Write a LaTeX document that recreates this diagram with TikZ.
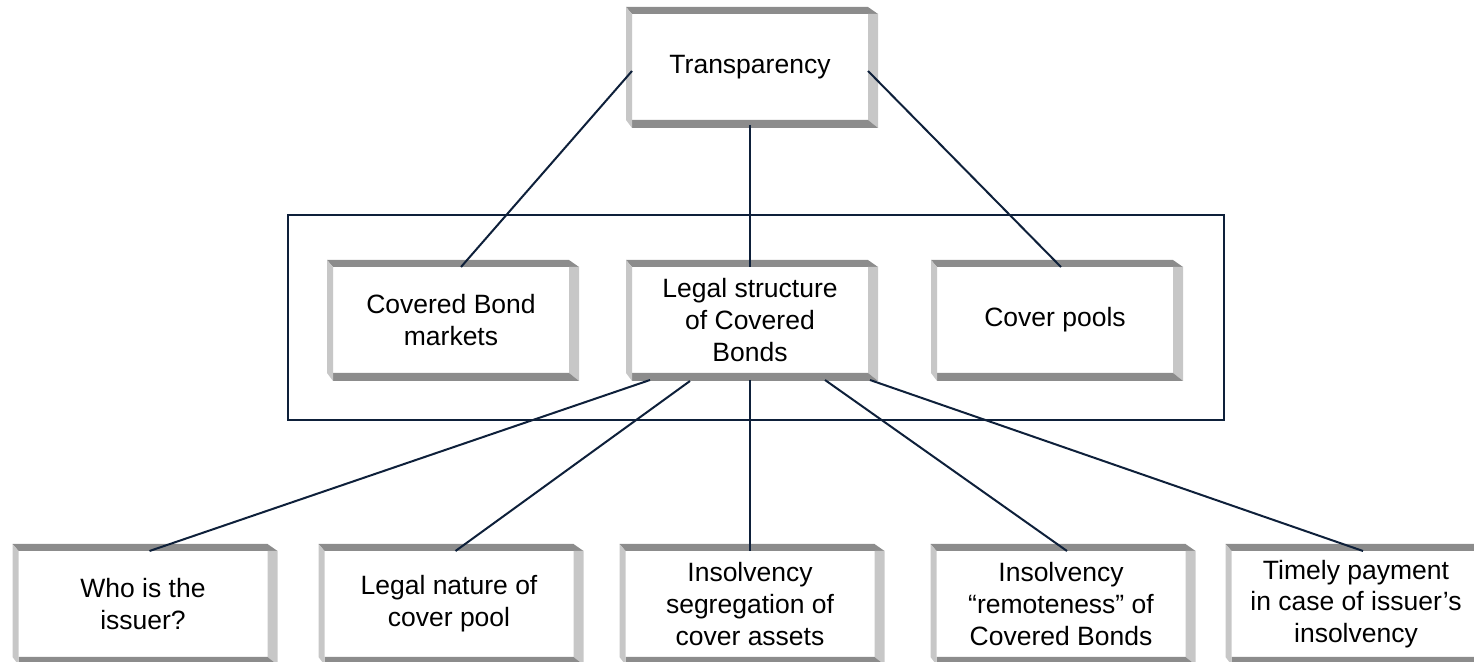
\documentclass[tikz,border=0pt]{standalone}
\usepackage{fontspec}
\setmainfont{Liberation Sans}
\usetikzlibrary{positioning}
\definecolor{linknavy}{RGB}{14,32,58}
\newcommand{\bevellightcolor}[0]{black!22}
\newcommand{\beveldarkcolor}[0]{black!45}

\tikzset{
    topic/.style={rectangle, fill=white, outer sep=0pt, inner sep=2pt, align=center,
        minimum width=118pt, minimum height=53pt, font=\fontsize{13.25}{15.9}\selectfont},
    subtopic/.style={topic, minimum width=124.5pt},
    link/.style={draw=linknavy, line width=1pt},
}

\begin{document}
\begin{tikzpicture}[x=0.5pt, y=-0.5pt]
    \useasboundingbox (0,0) rectangle (1474,662);
    \clip (0,0) rectangle (1474,662);
    \node[rectangle, draw=linknavy, line width=1pt, minimum width=468pt, minimum height=102.5pt]
        (group) at (756,317.5) {};
    \node[topic] (legal) at (750,320) {Legal structure\\of Covered\\Bonds};
    \node[topic, above=73.5pt of legal]
        (transparency) {Transparency};
    \node[topic, left=31.5pt of legal]
        (markets) {Covered Bond\\markets};
    \node[topic, right=34.5pt of legal]
        (pools) {Cover pools};
    \node[subtopic, below=89pt of legal]
        (segregation) {Insolvency\\segregation of\\cover assets};
    \node[subtopic, left=26pt of segregation]
        (nature) {Legal nature of\\cover pool};
    \node[subtopic, left=28.5pt of nature]
        (issuer) {Who is the\\issuer?};
    \node[subtopic, right=31pt of segregation]
        (remoteness) {Insolvency\\``remoteness'' of\\Covered Bonds};
    \node[subtopic, right=23pt of remoteness]
        (payment) {Timely payment\\in case of issuer's\\insolvency};
    % bevelled frames
    \foreach \n in {transparency, markets, legal, pools, issuer, nature, segregation, remoteness, payment} {
        \fill[\beveldarkcolor] ([shift={(-6,-7)}]\n.north west) -- ([shift={(0,-7)}]\n.north east)
            -- ([shift={(10,0)}]\n.north east) -- (\n.north west) -- cycle;
        \fill[\bevellightcolor] (\n.north east) -- ([shift={(10,0)}]\n.north east)
            -- ([shift={(10,8)}]\n.south east) -- (\n.south east) -- cycle;
        \fill[\beveldarkcolor] (\n.south west) -- (\n.south east)
            -- ([shift={(10,8)}]\n.south east) -- ([shift={(0,8)}]\n.south west) -- cycle;
        \fill[\bevellightcolor] ([shift={(-6,-7)}]\n.north west) -- (\n.north west)
            -- ([shift={(0,8)}]\n.south west) -- ([shift={(-6,0)}]\n.south west) -- cycle;
    }
    \draw[link] ([shift={(0,4)}]transparency.west) -- ([shift={(10,0)}]markets.north);
    \draw[link] ([shift={(0,5)}]transparency.south) -- (legal.north);
    \draw[link] ([shift={(0,4)}]transparency.east) -- ([shift={(6,0)}]pools.north);
    \draw[link] ([shift={(-100,7)}]legal.south) -- ([shift={(6.5,0)}]issuer.north);
    \draw[link] ([shift={(-60,8)}]legal.south) -- ([shift={(6.5,0)}]nature.north);
    \draw[link] ([shift={(0,7)}]legal.south) -- (segregation.north);
    \draw[link] ([shift={(75,7)}]legal.south) -- ([shift={(6,0)}]remoteness.north);
    \draw[link] ([shift={(120,7)}]legal.south) -- ([shift={(7,0)}]payment.north);
\end{tikzpicture}
\end{document}
